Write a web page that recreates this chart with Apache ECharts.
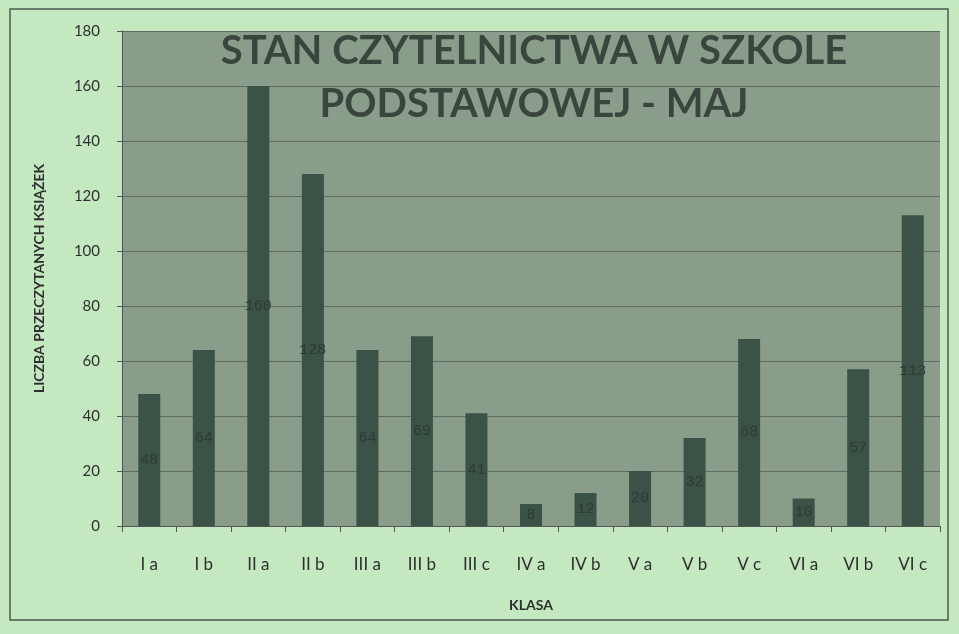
<!DOCTYPE html>
<html>
<head>
<meta charset="utf-8">
<script src="https://cdn.jsdelivr.net/npm/echarts@6/dist/echarts.min.js"></script>
<style>
    html, body { margin: 0; padding: 0; background: #c4e9c0; }
    #chart { width: 959px; height: 634px; }
</style>
</head>
<body>
<div id="chart"></div>
<script>
    // dane z wykresu
    var klasy = ['I a', 'I b', 'II a', 'II b', 'III a', 'III b', 'III c', 'IV a', 'IV b', 'V a', 'V b', 'V c', 'VI a', 'VI b', 'VI c'];
    var ksiazki = [48, 64, 160, 128, 64, 69, 41, 8, 12, 20, 32, 68, 10, 57, 113];
    var yTicks = [0, 20, 40, 60, 80, 100, 120, 140, 160, 180];

    var myChart = echarts.init(document.getElementById('chart'));

    option = {
        backgroundColor: '#c4e9c0',
        title: {
            text: 'STAN CZYTELNICTWA W SZKOLE\nPODSTAWOWEJ - MAJ',
            left: 529,
            top: 20,
            textAlign: 'center',
            textStyle: {
                fontFamily: 'Lato',
                fontWeight: 'bold',
                fontSize: 40,
                lineHeight: 53,
                color: '#3a463d'
            }
        },
        graphic: [{
            type: 'rect',
            shape: { x: 10, y: 9, width: 938, height: 611 },
            style: { fill: 'none', stroke: '#4a5a4c', lineWidth: 1.5 },
            silent: true
        }],
        grid: {
            left: 122,
            right: 19,
            top: 31,
            bottom: 108,
            show: true,
            backgroundColor: '#8a9d8b',
            borderWidth: 0
        },
        xAxis: {
            type: 'category',
            data: klasy,
            name: 'KLASA',
            nameLocation: 'middle',
            nameGap: 72,
            nameTextStyle: { fontFamily: 'Lato', fontWeight: 'bold', fontSize: 14, color: '#2e2e2e' },
            axisLine: { lineStyle: { color: '#555', width: 1 } },
            axisTick: { show: true, length: 6, alignWithLabel: false, lineStyle: { color: '#555' } },
            axisLabel: { fontFamily: 'Lato', fontSize: 17, color: '#2e2e2e', margin: 30 }
        },
        yAxis: {
            type: 'value',
            min: yTicks[0],
            max: yTicks[yTicks.length - 1],
            interval: 20,
            name: 'LICZBA PRZECZYTANYCH KSIĄŻEK',
            nameLocation: 'middle',
            nameGap: 76,
            nameTextStyle: { fontFamily: 'Lato', fontWeight: 'bold', fontSize: 14, color: '#2e2e2e' },
            axisLine: { show: true, lineStyle: { color: '#555', width: 1 } },
            axisTick: { show: true, length: 5, lineStyle: { color: '#555' } },
            axisLabel: { fontFamily: 'Lato', fontSize: 15, color: '#2e2e2e', margin: 22 },
            splitLine: { lineStyle: { color: '#5d6c5f', width: 1 } }
        },
        series: [{
            name: 'Liczba książek',
            type: 'bar',
            data: ksiazki,
            barWidth: 22,
            itemStyle: { color: '#3b5246' },
            label: {
                show: true,
                position: 'inside',
                fontFamily: 'Liberation Mono',
                fontSize: 15,
                color: '#2f3a33'
            }
        }]
    };

    myChart.setOption(option);
</script>
</body>
</html>
